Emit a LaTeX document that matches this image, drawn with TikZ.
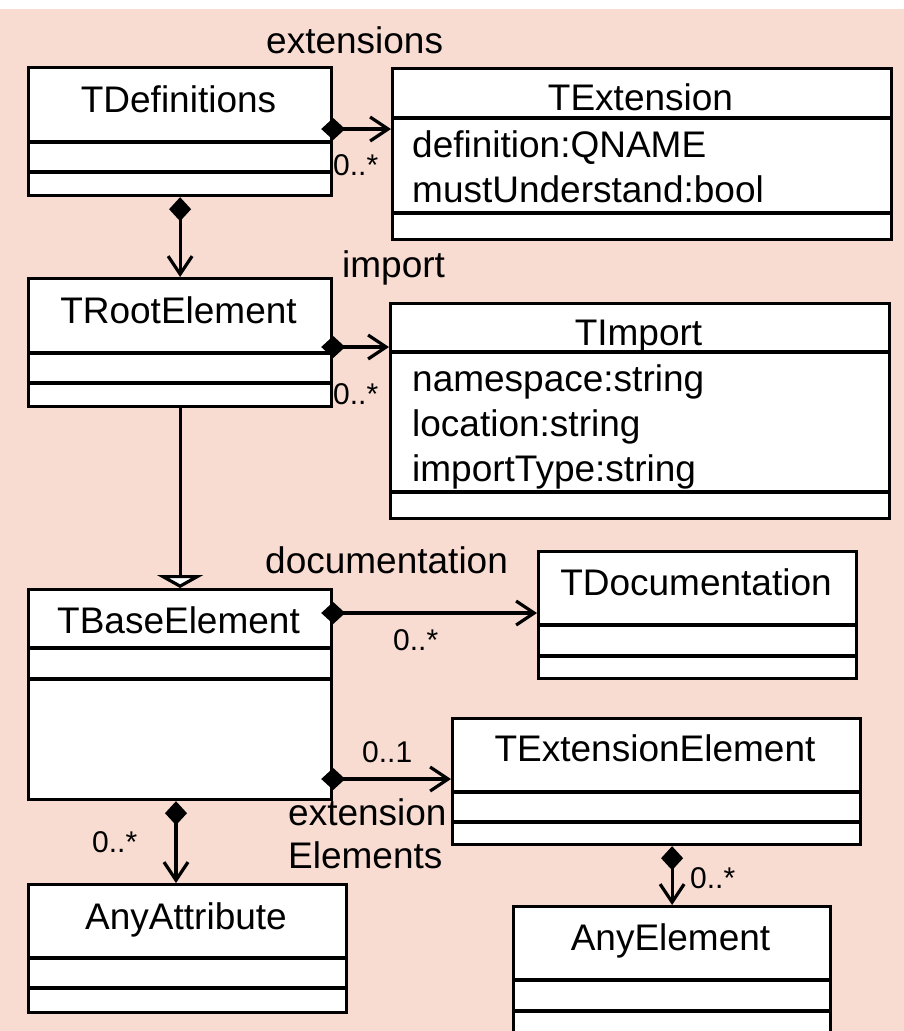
\documentclass[tikz,border=0pt]{standalone}
\usepackage{fontspec}
\setmainfont{Liberation Sans}
\usetikzlibrary{arrows.meta}
\definecolor{bgpink}{RGB}{248,220,210}
\tikzset{
  classbox/.style={draw, line width=3.2pt, fill=white, anchor=north west, inner sep=0pt},
  sepline/.style={line width=3.2pt},
  title/.style={anchor=base, inner sep=0pt},
  attr/.style={anchor=base west, inner sep=0pt},
  role/.style={anchor=base west, inner sep=0pt},
  mult/.style={anchor=base west, inner sep=0pt, font=\fontsize{30}{36}\selectfont},
  comp/.style={line width=3.2pt, {Diamond[length=24pt,width=22pt]}-{Straight Barb[length=18pt,width=24pt]}},
  comph/.style={comp, shorten <=-12pt},
  inherit/.style={line width=3.2pt, -{Triangle[length=13pt,width=46pt,fill=white]}}
}
\begin{document}
\begin{tikzpicture}[x=1pt,y=-1pt,font=\fontsize{37}{45}\selectfont] %Diagrama de clases
            \useasboundingbox (0,0) rectangle (904,1031);
            \clip (0,0) rectangle (904,1031);
            \fill[white] (0,0) rectangle (904,9);
            \fill[bgpink] (0,9) rectangle (904,1031);

            % clases
            \node[classbox, minimum width=303pt, minimum height=128pt] (tdef) at (27,66) {};
            \draw[sepline] (tdef.west |- 0,142) -- (tdef.east |- 0,142);
            \draw[sepline] (tdef.west |- 0,172) -- (tdef.east |- 0,172);
            \node[title] (tdefname) at (178.5,112) {TDefinitions};

            \node[classbox, minimum width=499pt, minimum height=171pt] (text) at (391,67) {};
            \draw[sepline] (text.west |- 0,118) -- (text.east |- 0,118);
            \draw[sepline] (text.west |- 0,213) -- (text.east |- 0,213);
            \node[title] (textname) at (640.5,110) {TExtension};
            \node[attr] (textdef) at (412,157) {definition:QNAME};
            \node[attr] (textmust) at (412,202) {mustUnderstand:bool};

            \node[classbox, minimum width=303pt, minimum height=128pt] (troot) at (27,277) {};
            \draw[sepline] (troot.west |- 0,353) -- (troot.east |- 0,353);
            \draw[sepline] (troot.west |- 0,383) -- (troot.east |- 0,383);
            \node[title] (trootname) at (178.5,323) {TRootElement};

            \node[classbox, minimum width=499pt, minimum height=215pt] (timp) at (389,302) {};
            \draw[sepline] (timp.west |- 0,352) -- (timp.east |- 0,352);
            \draw[sepline] (timp.west |- 0,492) -- (timp.east |- 0,492);
            \node[title] (timpname) at (638.5,345) {TImport};
            \node[attr] (timpns) at (412,391) {namespace:string};
            \node[attr] (timploc) at (412,436) {location:string};
            \node[attr] (timptype) at (412,481) {importType:string};

            \node[classbox, minimum width=303pt, minimum height=210pt] (tbase) at (27,588) {};
            \draw[sepline] (tbase.west |- 0,648) -- (tbase.east |- 0,648);
            \draw[sepline] (tbase.west |- 0,679) -- (tbase.east |- 0,679);
            \node[title] (tbasename) at (178.5,633) {TBaseElement};

            \node[classbox, minimum width=318pt, minimum height=127pt] (tdoc) at (537,550) {};
            \draw[sepline] (tdoc.west |- 0,625) -- (tdoc.east |- 0,625);
            \draw[sepline] (tdoc.west |- 0,656) -- (tdoc.east |- 0,656);
            \node[title] (tdocname) at (696,595) {TDocumentation};

            \node[classbox, minimum width=408pt, minimum height=126pt] (textel) at (451,717) {};
            \draw[sepline] (textel.west |- 0,792) -- (textel.east |- 0,792);
            \draw[sepline] (textel.west |- 0,822) -- (textel.east |- 0,822);
            \node[title] (textelname) at (655,761) {TExtensionElement};

            \node[classbox, minimum width=318pt, minimum height=128pt] (anyattr) at (27,883) {};
            \draw[sepline] (anyattr.west |- 0,958) -- (anyattr.east |- 0,958);
            \draw[sepline] (anyattr.west |- 0,988) -- (anyattr.east |- 0,988);
            \node[title] (anyattrname) at (186,929) {AnyAttribute};

            \node[classbox, minimum width=317pt, minimum height=140pt] (anyel) at (512,905) {};
            \draw[sepline] (anyel.west |- 0,980) -- (anyel.east |- 0,980);
            \draw[sepline] (anyel.west |- 0,1011) -- (anyel.east |- 0,1011);
            \node[title] (anyelname) at (670.5,950) {AnyElement};

            % relaciones
            \draw[comph] (tdef.east |- 0,129) -- (text.west |- 0,129);
            \draw[comp] (tdef.south) -- (troot.north);
            \draw[comph] (troot.east |- 0,347) -- (timp.west |- 0,347);
            \draw[inherit] (troot.south) -- (tbase.north);
            \draw[comph] (tbase.east |- 0,613) -- (tdoc.west |- 0,613);
            \draw[comph] (tbase.east |- 0,779) -- (textel.west |- 0,779);
            \draw[comp] (176,0 |- tbase.south) -- (176,0 |- anyattr.north);
            \draw[comp] (anyel.north |- textel.south) -- (anyel.north);

            % etiquetas
            \node[role] (extrole) at (266,53) {extensions};
            \node[mult] (extmult) at (333,175) {0..*};
            \node[role] (improle) at (342,277) {import};
            \node[mult] (impmult) at (333,404) {0..*};
            \node[role] (docrole) at (265,573) {documentation};
            \node[mult] (docmult) at (393,650) {0..*};
            \node[mult] (eemult) at (362,762) {0..1};
            \node[role] (eerole) at (288,825) {extension};
            \node[role] (eerolebis) at (288,868) {Elements};
            \node[mult] (attmult) at (92,852) {0..*};
            \node[mult] (anyelmult) at (690,888) {0..*};
        \end{tikzpicture}
\end{document}
